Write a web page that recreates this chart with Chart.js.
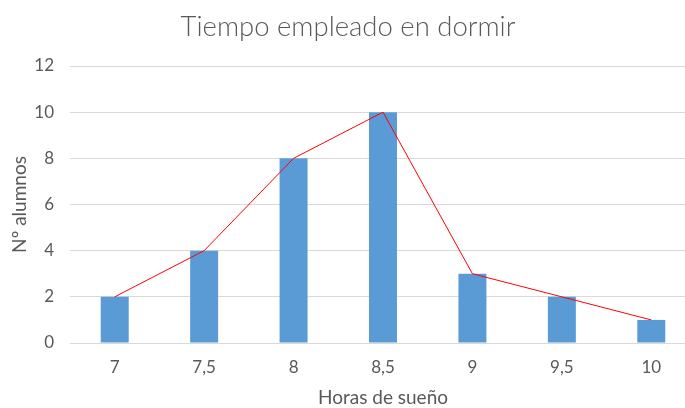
<!DOCTYPE html>
<html>
<head>
<meta charset="utf-8">
<script src="https://cdn.jsdelivr.net/npm/chart.js@4"></script>
<style>
  html, body { margin: 0; padding: 0; background: #fff; overflow: hidden; }
  #wrap { width: 697px; height: 408px; }
</style>
</head>
<body>
<div id="wrap"><canvas id="chart" width="697" height="408"></canvas></div>
<script>
const horas = ['7', '7,5', '8', '8,5', '9', '9,5', '10'];
const alumnos = [2, 4, 8, 10, 3, 2, 1];
const yTicks = [0, 2, 4, 6, 8, 10, 12];

const grey = '#595959';
const fontFamily = 'Lato, "Open Sans", sans-serif';

const ctx = document.getElementById('chart').getContext('2d');

new Chart(ctx, {
  type: 'bar',
  data: {
    labels: horas,
    datasets: [
      {
        type: 'line',
        data: alumnos,
        borderColor: '#ff0000',
        borderWidth: 1,
        pointRadius: 0,
        tension: 0,
        order: 0
      },
      {
        data: alumnos,
        backgroundColor: '#5b9bd5',
        categoryPercentage: 1,
        barPercentage: 0.313,
        order: 1
      }
    ]
  },
  options: {
    responsive: false,
    animation: false,
    layout: { padding: { left: 0, right: 1, top: 0, bottom: 0 } },
    plugins: {
      legend: { display: false },
      tooltip: { enabled: false },
      title: {
        display: true,
        text: 'Tiempo empleado en dormir',
        color: grey,
        font: { family: fontFamily, size: 27.5, weight: '300' },
        padding: { top: 10.5, bottom: 22.5 }
      }
    },
    scales: {
      x: {
        grid: { display: false, drawTicks: false },
        border: { display: false },
        ticks: { color: grey, font: { family: fontFamily, size: 17 }, padding: 14 },
        title: {
          display: true,
          text: 'Horas de sueño',
          color: grey,
          font: { family: fontFamily, size: 19 },
          padding: { top: 0, bottom: -1 }
        },
        afterFit: s => { s.height = 65; }
      },
      y: {
        min: 0,
        max: 12,
        afterBuildTicks: s => { s.ticks = yTicks.map(v => ({ value: v })); },
        grid: { color: '#d9d9d9', lineWidth: 1, drawTicks: false },
        border: { display: false },
        ticks: { color: grey, font: { family: fontFamily, size: 17 }, padding: 16 },
        title: {
          display: true,
          text: 'Nº alumnos',
          color: grey,
          font: { family: fontFamily, size: 19 },
          padding: { top: 8.5, bottom: 0 }
        },
        afterFit: s => { s.width = 70; }
      }
    }
  }
});
</script>
</body>
</html>
